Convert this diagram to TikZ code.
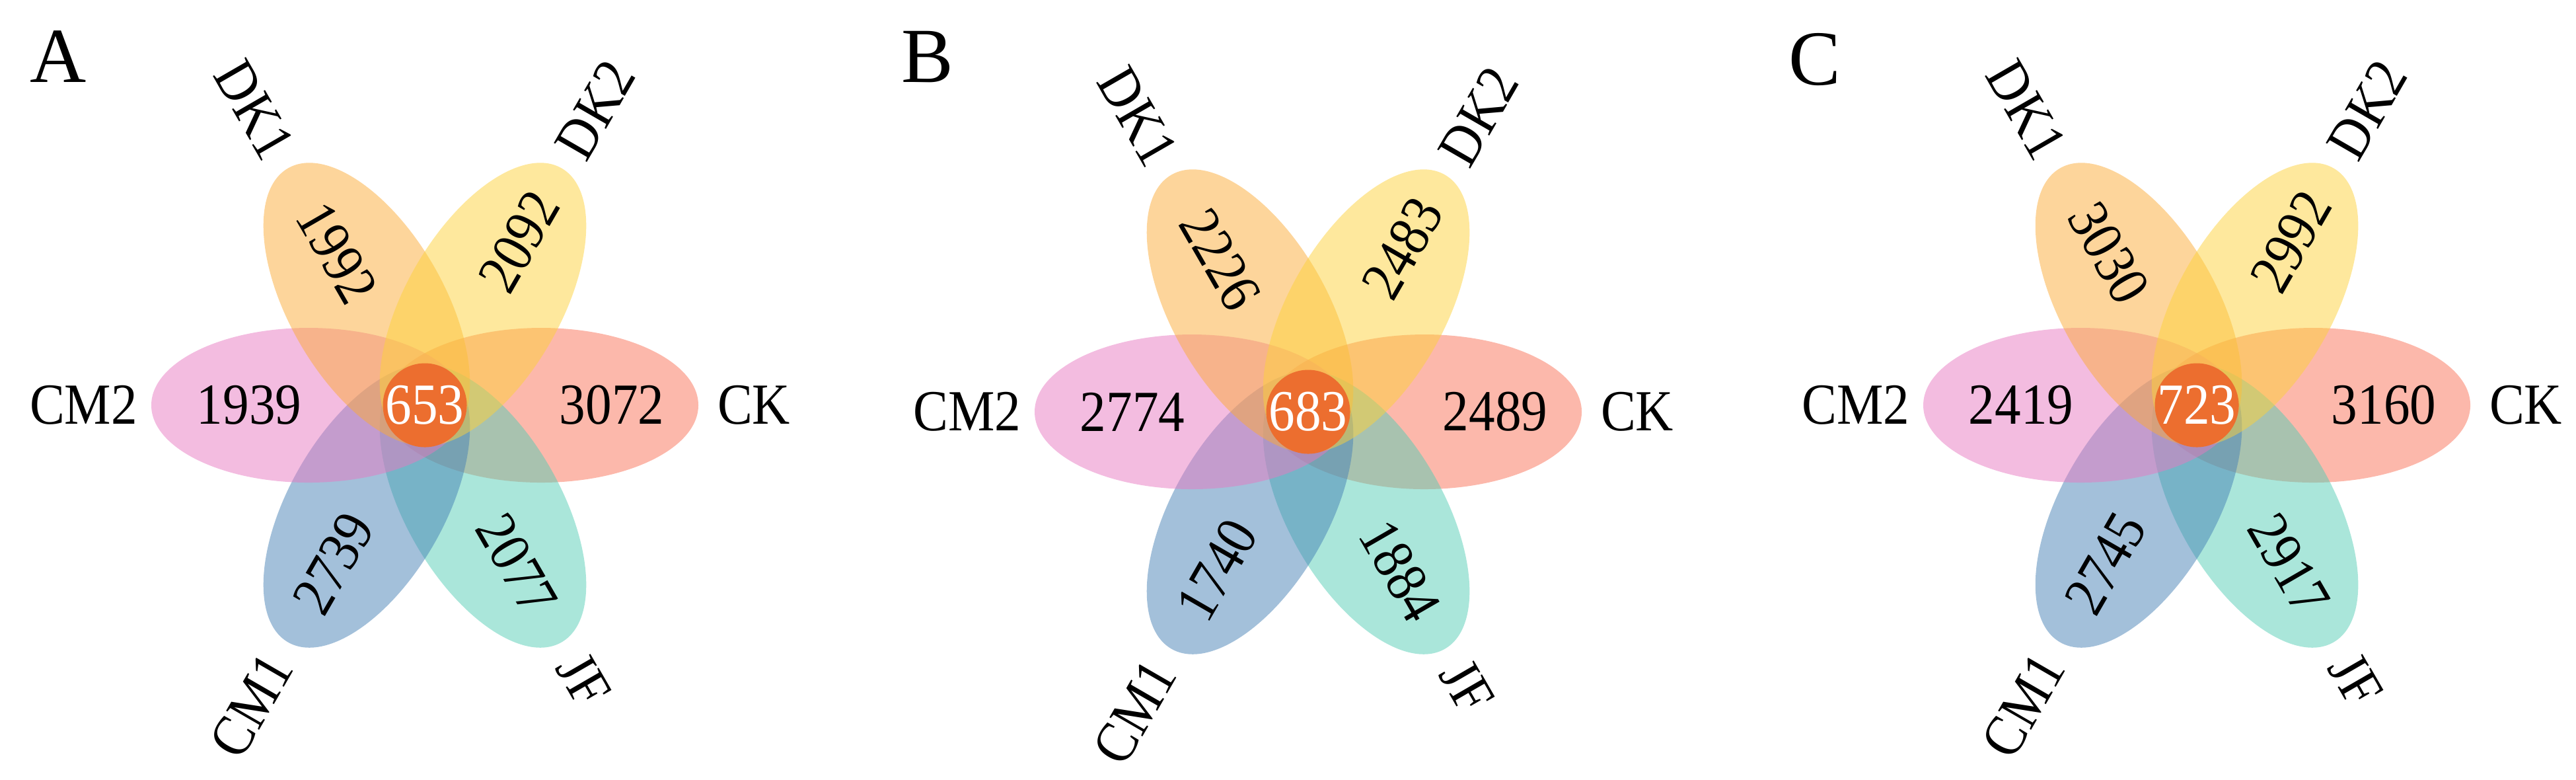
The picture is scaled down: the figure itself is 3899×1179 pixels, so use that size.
\documentclass[tikz,border=0pt]{standalone}
\usepackage{fontspec}
\setmainfont{Liberation Serif}[FakeStretch=0.9]
\newfontfamily\panelfont{Liberation Serif}
\definecolor{ckcol}{HTML}{F97157}
\definecolor{cmtwocol}{HTML}{E779C1}
\definecolor{dkonecol}{HTML}{FBAB37}
\definecolor{dktwocol}{HTML}{FDD13B}
\definecolor{cmonecol}{HTML}{4781B5}
\definecolor{jfcol}{HTML}{55CDB5}
\definecolor{corecol}{HTML}{EC6E2F}
\tikzset{
  petal/.style={fill=#1, fill opacity=0.5},
  cnt/.style={font=\fontsize{17.6}{20}\selectfont, inner sep=0pt},
  setlabel/.style={font=\fontsize{17.6}{20}\selectfont, inner sep=0pt},
  paneltag/.style={font=\panelfont\fontsize{23.6}{26}\selectfont, inner sep=0pt}
}
% #1 prefix, #2 centre, #3 core, #4 CK, #5 DK2, #6 DK1, #7 CM2, #8 CM1, #9 JF
\newcommand{\vennflower}[9]{%
  \begin{scope}[shift={(#2)}]
    \fill[petal=ckcol] (176,0) ellipse [x radius=238, y radius=117];
    \fill[petal=jfcol, rotate=-60] (176,0) ellipse [x radius=238, y radius=117];
    \fill[petal=cmonecol, rotate=-120] (176,0) ellipse [x radius=238, y radius=117];
    \fill[petal=cmtwocol, rotate=180] (176,0) ellipse [x radius=238, y radius=117];
    \fill[petal=dkonecol, rotate=120] (176,0) ellipse [x radius=238, y radius=117];
    \fill[petal=dktwocol, rotate=60] (176,0) ellipse [x radius=238, y radius=117];
    \fill[corecol] (0,0) circle [radius=63.5];
    \node[cnt, text=white] (#1-core) at (0,0) {#3};
    \node[cnt] (#1-nck) at (0:283) {#4};
    \node[cnt, rotate=60] (#1-ndktwo) at (60:286) {#5};
    \node[cnt, rotate=-60] (#1-ndkone) at (120:266) {#6};
    \node[cnt] (#1-ncmtwo) at (180:266) {#7};
    \node[cnt, rotate=60] (#1-ncmone) at (240:276) {#8};
    \node[cnt, rotate=-60] (#1-njf) at (300:278) {#9};
    \node[setlabel, anchor=west] (#1-lck) at (0:442) {CK};
    \node[setlabel, anchor=west, rotate=60] (#1-ldktwo) at (60:438) {DK2};
    \node[setlabel, anchor=east, rotate=-60] (#1-ldkone) at (120:438) {DK1};
    \node[setlabel, anchor=east] (#1-lcmtwo) at (180:434) {CM2};
    \node[setlabel, anchor=east, rotate=60] (#1-lcmone) at (240:442) {CM1};
    \node[setlabel, anchor=west, rotate=-60] (#1-ljf) at (300:442) {JF};
  \end{scope}%
}
\begin{document}
\begin{tikzpicture}[x=0.2pt, y=0.2pt]
  \useasboundingbox (0,0) rectangle (3899,-1179);
  \vennflower{a}{643,-613}{653}{3072}{2092}{1992}{1939}{2739}{2077}
  \vennflower{b}{1980,-623}{683}{2489}{2483}{2226}{2774}{1740}{1884}
  \vennflower{c}{3325,-613}{723}{3160}{2992}{3030}{2419}{2745}{2917}
  \node[paneltag] (tagA) at (88,-86) {A};
  \node[paneltag] (tagB) at (1404,-86) {B};
  \node[paneltag] (tagC) at (2747,-90) {C};
\end{tikzpicture}
\end{document}
